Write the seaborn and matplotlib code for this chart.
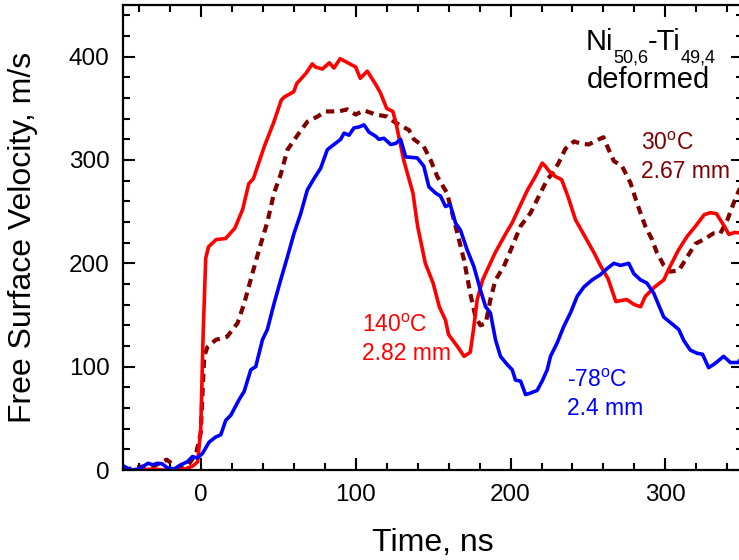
import pandas as pd
import seaborn as sns
import matplotlib.pyplot as plt
from matplotlib.ticker import MultipleLocator

# 140 C, 2.82 mm (red, solid)
time_140 = [-50, -40, -30, -25, -20, -10, -5, -2, 0, 1.5, 3.2, 5, 10, 16, 22, 27, 31, 34, 41, 47,
            52, 54, 60, 62, 68, 72, 74, 78.5, 83, 86, 90, 95, 100, 103, 107.5, 113, 116, 120, 124, 126,
            131, 137, 140, 145, 150, 154, 158, 160, 166, 170, 174, 176, 178.5, 182, 186, 190, 197, 201, 205, 211,
            216, 220.5, 222.5, 225, 229, 233, 237, 242, 248, 254, 258, 263, 268, 275, 280, 284, 287, 293, 299, 302,
            308.5, 314, 320, 325, 329, 333, 338, 341, 345, 350]
vel_140 = [0, 0, 1, 0, 0, 1, 4, 8, 40, 130, 205, 216, 223, 224, 234, 252, 277, 282, 313, 336,
           358, 361, 366, 374, 384, 393, 390, 388, 394, 389, 398, 394, 390, 379, 386, 373, 365, 350, 347, 336,
           300, 268, 236, 200, 181, 158, 145, 131, 119, 110, 114, 135, 165, 184, 197, 210, 229, 239, 252, 271,
           284, 297, 294, 289, 284, 281, 265, 242, 226, 210, 198, 185, 163, 165, 160, 158, 168, 177, 184, 194,
           213, 226, 237, 247, 249, 248, 236, 228, 230, 229]

# 30 C, 2.67 mm (dark red, dashed)
time_30 = [-50, -40, -30, -22, -15, -8, -3, 0, 1, 2.2, 4.3, 9.7, 17, 23.7, 28, 33.3, 37.6, 43, 47.3, 51.6,
           56, 63.4, 68.8, 75.3, 80.6, 89, 94.6, 100, 105.4, 113, 120.4, 125.8, 134.4, 137.6, 144, 148.4, 152.7, 159, 164.5, 170,
           174, 177.4, 180.6, 184, 187, 190.3, 195.7, 201, 206.5, 213, 218.3, 223.7, 227, 231, 235.5, 241, 245, 250.5, 257, 260,
           263.4, 266.7, 272, 277.4, 281.7, 287, 291.4, 294.6, 299, 303, 308.6, 314, 319.4, 324.7, 331, 335.5, 340, 344, 347.3, 350]
vel_30 = [0, 3, 4, 10, 2, 5, 16, 36, 70, 110, 119, 126, 129, 142, 161, 190, 213, 240, 268, 286,
          310, 326, 337, 342, 347, 347, 349, 344, 348, 344, 342, 336, 329, 320, 313, 300, 284, 268, 236, 203,
          171, 148, 140, 142, 165, 184, 197, 216, 236, 249, 265, 281, 287, 297, 311, 318, 316, 315, 320, 322,
          310, 299, 294, 278, 258, 236, 223, 210, 198, 192, 193, 206, 219, 223, 229, 229, 242, 258, 270, 278]

# -78 C, 2.4 mm (blue, solid)
time_78 = [-50, -45, -40, -34, -31, -28, -25, -21.5, -17, -13, -8.6, -5.4, -2.2, 1.1, 5.4, 9.7, 12.9, 16.1, 19.4, 24.7,
           28, 32.3, 35.5, 39.8, 43, 47.3, 51.6, 55.9, 60.2, 64.5, 68.8, 73.1, 77.4, 81.7, 86, 90.3, 92.5, 95.7, 98.9, 102.2,
           105.4, 108.6, 112.9, 115, 118.3, 122.6, 125.8, 129, 132.3, 139.8, 144, 147.3, 151.6, 154.8, 158, 161, 164.5, 167.7, 172, 176.3,
           180.6, 183.9, 187, 190.3, 193.5, 197.9, 201.1, 203.2, 206.5, 209.7, 212, 217.2, 220.4, 223.7, 225.8, 230.1, 234.4, 238.7, 243, 247.3,
           252.7, 258, 262.4, 266.7, 271, 276.3, 279.6, 283.9, 288, 292.5, 298.9, 305.4, 308.6, 312, 316.1, 320.4, 324, 327.9, 332, 337.6,
           342, 346.9, 350]
vel_78 = [4, 0, 1, 6.5, 5, 6.5, 6, 2, 1, 5, 8, 13, 11.6, 16, 27, 32, 34, 48, 53, 68,
          76, 97, 100, 126, 136, 161, 184, 206, 229, 248, 271, 282, 292, 310, 315, 320, 326, 324, 331, 332,
          334, 327, 323, 320, 321, 315, 316, 320, 303, 302, 294, 274, 268, 265, 255, 257, 239, 232, 213, 197,
          174, 158, 152, 126, 110, 102, 97, 87, 86, 73, 74, 77, 86, 97, 110, 123, 139, 152, 168, 177,
          184, 189, 195, 200, 198, 200, 190, 184, 181, 171, 148, 140, 136, 125, 116, 113, 112, 99, 103, 110,
          104, 104, 110]


def main():
    sns.set_style("ticks")
    plt.rcParams['font.family'] = ['Liberation Sans', 'DejaVu Sans']
    plt.rcParams['mathtext.fontset'] = 'custom'
    plt.rcParams['mathtext.rm'] = 'Liberation Sans'
    plt.rcParams['mathtext.it'] = 'Liberation Sans:italic'
    plt.rcParams['mathtext.bf'] = 'Liberation Sans:bold'
    plt.rcParams['text.color'] = 'black'
    plt.rcParams['axes.labelcolor'] = 'black'

    fig = plt.figure(figsize=(7.39, 5.60), dpi=100)
    ax = fig.add_axes([0.1669, 0.1607, 0.8383, 0.8304])

    df30 = pd.DataFrame({'t': time_30, 'v': vel_30})
    df140 = pd.DataFrame({'t': time_140, 'v': vel_140})
    df78 = pd.DataFrame({'t': time_78, 'v': vel_78})

    sns.lineplot(data=df30, x='t', y='v', ax=ax, sort=False, estimator=None,
                 color='#800000', linewidth=3.0, linestyle=(0, (2.0, 1.4)))
    sns.lineplot(data=df140, x='t', y='v', ax=ax, sort=False, estimator=None,
                 color='#ff0000', linewidth=2.6)
    sns.lineplot(data=df78, x='t', y='v', ax=ax, sort=False, estimator=None,
                 color='#0000ff', linewidth=2.6)

    ax.set_xlim(-50, 350)
    ax.set_ylim(0, 450)
    ax.xaxis.set_major_locator(MultipleLocator(100))
    ax.xaxis.set_minor_locator(MultipleLocator(20))
    ax.yaxis.set_major_locator(MultipleLocator(100))
    ax.yaxis.set_minor_locator(MultipleLocator(20))
    ax.tick_params(which='both', direction='in', top=True, right=True, width=1.5,
                   color='black', labelcolor='black', labelsize=17.5, pad=10)
    ax.tick_params(which='major', length=8.5)
    ax.tick_params(which='minor', length=5)
    for s in ax.spines.values():
        s.set_linewidth(1.6)
        s.set_color('black')

    ax.set_xlabel('Time, ns', fontsize=23)
    ax.set_ylabel('Free Surface Velocity, m/s', fontsize=23)
    ax.xaxis.set_label_coords(0.5, -0.125)
    ax.yaxis.set_label_coords(-0.138, 0.5)

    # sample name with small, deep subscripts
    t1 = ax.text(248.4, 406.5, 'Ni', fontsize=21, ha='left', va='baseline')
    s1 = ax.annotate('50,6', xy=(1, 0), xycoords=t1, xytext=(0, 4.5), textcoords='offset points',
                     fontsize=13, ha='left', va='top')
    t2 = ax.annotate('-Ti', xy=(1, 0), xycoords=(s1, t1), fontsize=21, ha='left', va='bottom')
    ax.annotate('49,4', xy=(1, 0), xycoords=(t2, t1), xytext=(0, 4.5), textcoords='offset points',
                fontsize=13, ha='left', va='top')
    ax.text(289, 370, 'deformed', fontsize=21, ha='center', va='baseline')

    ax.text(284, 310, '30$^{\\mathregular{o}}$C', fontsize=16.5, color='#800000', va='baseline')
    ax.text(284, 283, '2.67 mm', fontsize=16.5, color='#800000', va='baseline')
    ax.text(104, 134, '140$^{\\mathregular{o}}$C', fontsize=16.5, color='#ff0000', va='baseline')
    ax.text(104, 106.5, '2.82 mm', fontsize=16.5, color='#ff0000', va='baseline')
    ax.text(236.5, 80.5, '-78$^{\\mathregular{o}}$C', fontsize=16.5, color='#0000ff', va='baseline')
    ax.text(236.5, 53, '2.4 mm', fontsize=16.5, color='#0000ff', va='baseline')

    fig.savefig('out.png', dpi=100)


if __name__ == '__main__':
    main()
